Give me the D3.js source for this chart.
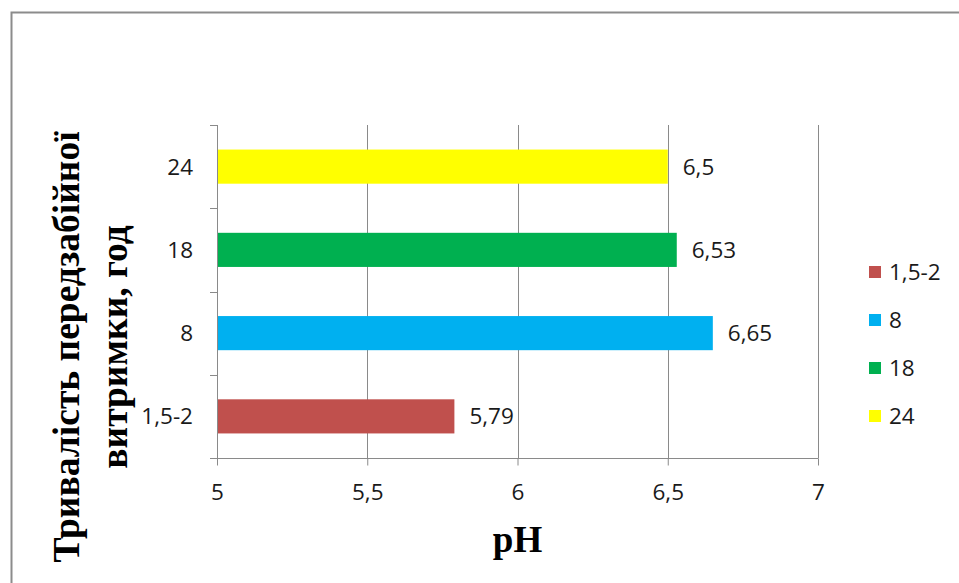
<!DOCTYPE html>
<html>
<head>
<meta charset="utf-8">
<script src="https://cdn.jsdelivr.net/npm/d3@7"></script>
<style>
  html, body { margin: 0; padding: 0; background: #fff; }
  svg { display: block; }
</style>
</head>
<body>
<svg id="chart" width="959" height="583"></svg>
<script>
// Holding time before slaughter (hours) and the measured pH
const categories = ["1,5-2", "8", "18", "24"];
const phValues = [5.79, 6.65, 6.53, 6.5];
const valueLabels = ["5,79", "6,65", "6,53", "6,5"];
const barColors = ["#C0504D", "#00B0F0", "#00B050", "#FFFF00"];
const xTicks = [5, 5.5, 6, 6.5, 7];
const xTickLabels = ["5", "5,5", "6", "6,5", "7"];
const yTitleLines = ["Тривалість передзабійної", "витримки, год"];
const xTitle = "pH";

const svg = d3.select("#chart");
const labelFont = "'Open Sans', 'Noto Sans', sans-serif";
const titleFont = "'Liberation Serif', 'DejaVu Serif', serif";
const labelSize = 22.5;

// Outer chart frame (right and bottom edges run off the canvas)
svg.append("rect")
  .attr("x", 11.5).attr("y", 12.5)
  .attr("width", 1000).attr("height", 1000)
  .attr("fill", "none")
  .attr("stroke", "#8c8c8c")
  .attr("stroke-width", 2);

const plot = { left: 217, right: 818, top: 125, bottom: 458 };

const x = d3.scaleLinear().domain([5, 7]).range([plot.left, plot.right]);
const y = d3.scaleBand().domain(categories).range([plot.bottom, plot.top]);
const barFrac = 0.41;

// Vertical gridlines
svg.append("g")
  .selectAll("line")
  .data(xTicks.slice(1))
  .join("line")
  .attr("x1", d => Math.round(x(d)) + 0.5)
  .attr("x2", d => Math.round(x(d)) + 0.5)
  .attr("y1", plot.top)
  .attr("y2", plot.bottom)
  .attr("stroke", "#8a8a8a")
  .attr("stroke-width", 1);

// Bars
svg.append("g")
  .selectAll("rect")
  .data(categories)
  .join("rect")
  .attr("x", x(5))
  .attr("y", d => y(d) + y.bandwidth() * (1 - barFrac) / 2)
  .attr("width", (d, i) => x(phValues[i]) - x(5))
  .attr("height", y.bandwidth() * barFrac)
  .attr("fill", (d, i) => barColors[i]);

// Value labels at bar ends
svg.append("g")
  .selectAll("text")
  .data(categories)
  .join("text")
  .attr("x", (d, i) => x(phValues[i]) + 15)
  .attr("y", d => y(d) + y.bandwidth() / 2)
  .attr("dy", "0.35em")
  .attr("font-family", labelFont)
  .attr("font-size", labelSize)
  .attr("fill", "#1a1a1a")
  .text((d, i) => valueLabels[i]);

// Category axis (left)
const yAxis = svg.append("g");
yAxis.append("line")
  .attr("x1", plot.left + 0.5).attr("x2", plot.left + 0.5)
  .attr("y1", plot.top).attr("y2", plot.bottom)
  .attr("stroke", "#8a8a8a");
const boundaries = categories.map(c => y(c)).concat([plot.bottom]);
yAxis.selectAll("line.tick")
  .data(boundaries)
  .join("line")
  .attr("class", "tick")
  .attr("x1", plot.left - 7).attr("x2", plot.left)
  .attr("y1", d => Math.round(d) + 0.5)
  .attr("y2", d => Math.round(d) + 0.5)
  .attr("stroke", "#8a8a8a");
yAxis.selectAll("text")
  .data(categories)
  .join("text")
  .attr("x", plot.left - 24)
  .attr("y", d => y(d) + y.bandwidth() / 2)
  .attr("dy", "0.35em")
  .attr("text-anchor", "end")
  .attr("font-family", labelFont)
  .attr("font-size", labelSize)
  .attr("fill", "#1a1a1a")
  .text(d => d);

// Value axis (bottom)
const xAxis = svg.append("g")
  .attr("transform", `translate(0,${plot.bottom + 0.5})`)
  .call(d3.axisBottom(x).tickValues(xTicks).tickSize(7).tickSizeOuter(0)
    .tickFormat((d, i) => xTickLabels[i]));
xAxis.select(".domain")
  .attr("d", `M${plot.left - 7},0H${plot.right + 0.5}`)
  .attr("stroke", "#8a8a8a");
xAxis.selectAll(".tick line").attr("stroke", "#8a8a8a");
xAxis.selectAll(".tick text")
  .attr("y", 34)
  .attr("dy", "0.35em")
  .attr("font-family", labelFont)
  .attr("font-size", labelSize)
  .attr("fill", "#1a1a1a");

// Axis titles
svg.append("text")
  .attr("x", x(6))
  .attr("y", 552)
  .attr("text-anchor", "middle")
  .attr("font-family", titleFont)
  .attr("font-weight", "bold")
  .attr("font-size", 37)
  .attr("fill", "#000")
  .text(xTitle);

const yTitle = svg.append("text")
  .attr("transform", "translate(0,347) rotate(-90)")
  .attr("text-anchor", "middle")
  .attr("font-family", titleFont)
  .attr("font-weight", "bold")
  .attr("font-size", 37.5)
  .attr("fill", "#000");
yTitle.selectAll("tspan")
  .data(yTitleLines)
  .join("tspan")
  .attr("x", 0)
  .attr("y", (d, i) => 79 + i * 48)
  .text(d => d);

// Legend
const legend = svg.append("g")
  .selectAll("g")
  .data(categories)
  .join("g")
  .attr("transform", (d, i) => `translate(869,${272 + i * 48})`);
legend.append("rect")
  .attr("x", 0).attr("y", -6)
  .attr("width", 12).attr("height", 12)
  .attr("fill", (d, i) => barColors[i]);
legend.append("text")
  .attr("x", 20)
  .attr("y", 0)
  .attr("dy", "0.35em")
  .attr("font-family", labelFont)
  .attr("font-size", labelSize)
  .attr("fill", "#1a1a1a")
  .text(d => d);
</script>
</body>
</html>
